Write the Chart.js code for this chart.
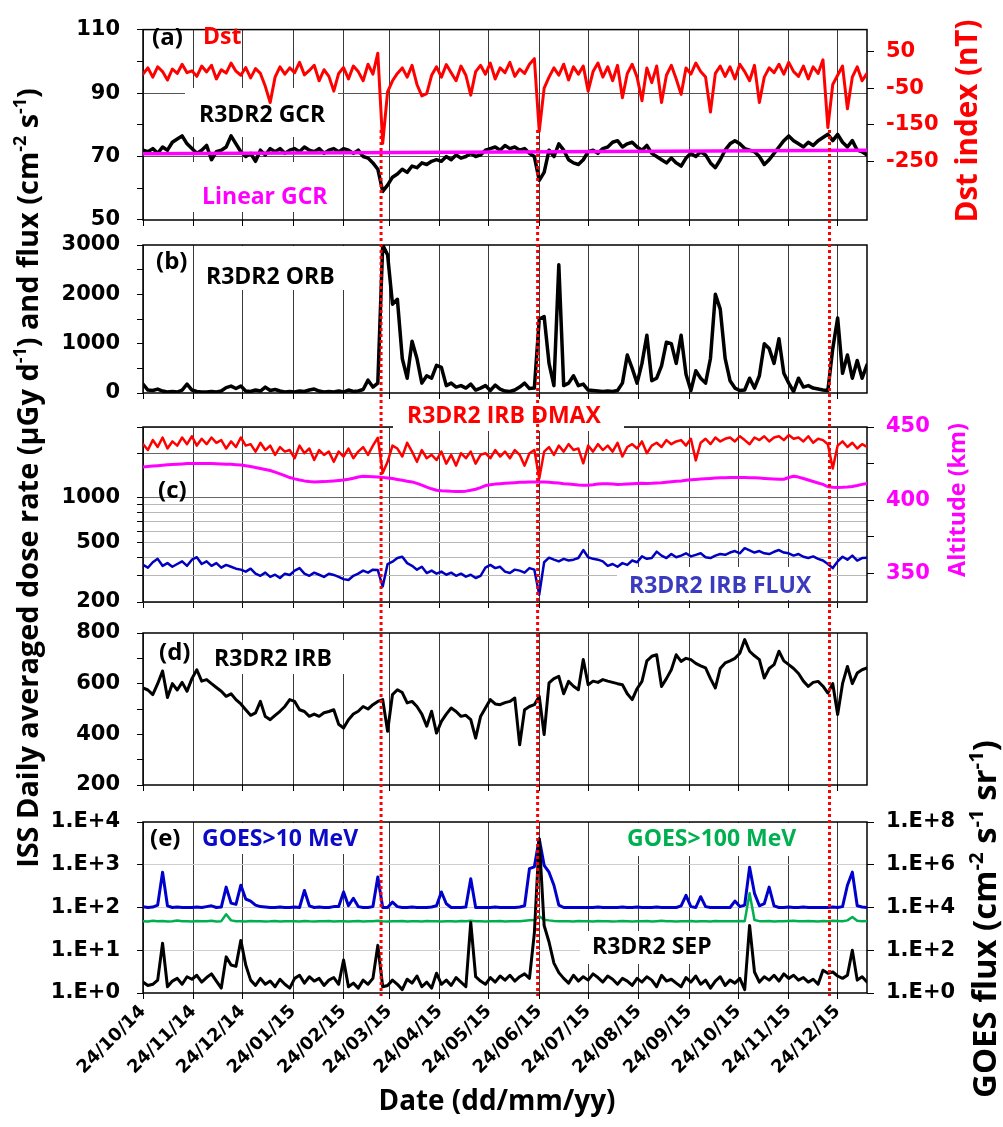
<!DOCTYPE html>
<html>
<head>
<meta charset="utf-8">
<script src="https://cdn.jsdelivr.net/npm/chart.js@4.4.1/dist/chart.umd.min.js"></script>
<style>
html, body { margin: 0; padding: 0; background: #fff; }
#wrap { position: relative; width: 1003px; height: 1127px; }
#wrap canvas { position: absolute; left: 0; top: 0; }
</style>
</head>
<body>
<div id="wrap">
  <canvas id="pa" width="1003" height="1127"></canvas>
  <canvas id="pb" width="1003" height="1127"></canvas>
  <canvas id="pc" width="1003" height="1127"></canvas>
  <canvas id="pd" width="1003" height="1127"></canvas>
  <canvas id="pe" width="1003" height="1127"></canvas>
</div>
<script>
// days since 24/10/14, one sample every 3 days
const days = Array.from({ length: 149 }, (_, i) => i * 3);
const dayMax = 444;
const tickDays = [0, 31, 61, 92, 123, 151, 182, 212, 243, 273, 304, 335, 365, 396, 426];
const tickLabels = ['24/10/14', '24/11/14', '24/12/14', '24/01/15', '24/02/15', '24/03/15', '24/04/15',
  '24/05/15', '24/06/15', '24/07/15', '24/08/15', '24/09/15', '24/10/15', '24/11/15', '24/12/15'];
const stormDays = [146, 242, 421];

// (a) Dst index (nT)
const dstValues = [
  -12, 5, -20, 8, -5, -28, 2, -10, 15, -8,
  -3, -18, 10, -6, 12, -25, 0, -9, 18, -4,
  -15, 6, -22, 3, -10, -45, -89, -20, 8, -12,
  5, -8, 20, -14, -2, 12, -30, 0, -18, -58,
  -10, 6, -25, 10, -5, -30, 15, -12, 45, -200,
  -60, -30, -10, 5, -20, 12, -40, -71, -65, -15,
  8, -20, 14, -8, -30, 10, -15, -69, -5, 12,
  -12, 18, -25, 5, -8, 20, -18, 2, -10, 15,
  30, -167, -50, -20, 5, -15, 15, -28, 8, -12,
  10, -58, -5, 18, -20, 8, -30, 12, -76, -10,
  15, -20, -84, 5, -35, 10, -89, -15, 12, -25,
  -67, 5, -12, 18, -5, -20, -115, -10, 10, -18,
  8, -25, 15, -5, -30, 12, -89, -20, 5, -8,
  15, -12, 20, -5, -18, 10, -25, 8, -10, 27,
  -157, -40, -15, 10, -106, -20, 8, -30, -10
];
// (a) R3DR2 GCR
const gcrValues = [
  72.0, 71.5, 72.5, 71.0, 73.0, 72.0, 74.5, 75.5, 76.5, 74.0,
  72.5, 71.0, 72.0, 73.5, 69.0, 71.5, 72.0, 73.0, 76.5, 74.0,
  71.5, 70.0, 71.0, 68.5, 72.0, 70.5, 72.5, 71.5, 72.5, 71.0,
  72.0, 72.5, 71.5, 73.0, 72.0, 71.5, 72.5, 71.0, 72.0, 72.5,
  71.5, 72.5, 72.0, 71.0, 72.0, 70.0, 69.5, 68.0, 66.0, 59.0,
  61.0, 63.5, 64.5, 66.0, 65.0, 67.0, 66.5, 68.0, 67.5, 68.5,
  69.0, 68.5, 70.0, 69.0, 70.5, 69.5, 70.0, 71.0, 70.0, 70.5,
  72.0, 72.5, 73.0, 72.0, 73.5, 72.5, 73.0, 72.0, 72.5, 71.0,
  70.0, 62.5, 65.0, 72.0, 70.0, 74.0, 72.0, 69.0, 68.0, 67.5,
  69.0, 71.5, 72.0, 71.0, 72.5, 73.0, 74.5, 75.0, 73.0, 74.0,
  74.5, 73.0, 72.0, 73.5, 71.0, 70.0, 69.0, 68.0, 69.5, 68.0,
  67.0, 69.5, 71.0, 70.0, 71.5, 70.5, 68.0, 66.5, 69.0, 72.0,
  74.0, 75.0, 74.0, 72.5, 72.0, 71.5, 70.0, 67.5, 69.0, 71.0,
  73.0, 75.0, 76.5, 75.0, 74.0, 73.0, 74.5, 73.5, 75.0, 76.0,
  77.0, 75.0, 77.0, 74.5, 73.0, 75.0, 72.0, 71.5, 70.5
];
const linearGcrDays = [0, 444];
const linearGcrValues = [70.9, 72.0];

// (b) R3DR2 ORB
const orbValues = [
  180, 60, 50, 80, 40, 20, 30, 20, 60, 180,
  60, 30, 20, 20, 30, 20, 40, 110, 140, 90,
  140, 40, 30, 60, 40, 120, 50, 70, 40, 20,
  30, 20, 40, 30, 60, 80, 40, 20, 30, 20,
  40, 20, 60, 30, 40, 70, 260, 120, 200, 3000,
  2800, 1800, 1900, 700, 300, 1050, 700, 200, 350, 300,
  560, 520, 150, 200, 120, 150, 100, 180, 60, 100,
  150, 50, 160, 80, 40, 30, 60, 120, 200, 90,
  100, 1500, 1550, 600, 150, 2600, 150, 200, 350, 150,
  180, 60, 50, 40, 30, 40, 30, 50, 200, 770,
  500, 200, 600, 1170, 250, 300, 550, 1030, 1000, 600,
  1170, 380, 50, 450, 300, 200, 700, 2000, 1700, 700,
  250, 100, 50, 60, 300, 100, 350, 1000, 900, 600,
  1100, 400, 200, 30, 300, 120, 150, 100, 80, 60,
  50, 900, 1520, 400, 770, 300, 660, 300, 570
];

// (c) R3DR2 IRB DMAX, ISS altitude (km), R3DR2 IRB FLUX
const dmaxValues = [
  2300, 2100, 2450, 2200, 2550, 2150, 2400, 2250, 2550, 2300,
  2600, 2250, 2500, 2300, 2550, 2350, 2450, 2150, 2400, 2200,
  2550, 2250, 2300, 2050, 2350, 2100, 2250, 1950, 2200, 2050,
  2100, 1850, 2250, 2000, 2150, 1800, 2100, 1950, 2050, 1750,
  2050, 1900, 2150, 1850, 2050, 2200, 1950, 2250, 2540, 1470,
  1750, 2250, 2150, 1900, 2350, 2050, 1750, 2100, 1850, 1950,
  1800, 2050, 1700, 1950, 1650, 2000, 1850, 2050, 1700, 1950,
  2000, 1850, 2100, 1900, 2050, 1850, 2100, 1950, 1650, 2000,
  2100, 1350, 2050, 2200, 1950, 2250, 2050, 2300, 2100, 2150,
  1710, 2250, 2050, 2300, 2100, 2250, 2050, 2350, 1900, 2200,
  2300, 2150, 2400, 2000, 2250, 2350, 2200, 2450, 2300, 2400,
  2450, 2250, 2500, 1790, 2350, 2500, 2300, 2550, 2400, 2500,
  2550, 2400, 2600, 2450, 2300, 2550, 2450, 2600, 2400, 2550,
  2600, 2450, 2650, 2500, 2550, 2400, 2600, 2350, 2500, 2450,
  2300, 1580, 2250, 2400, 2200, 2350, 2150, 2300, 2200
];
const altitudeValues = [
  422.7, 423.0, 423.3, 423.6, 423.9, 424.2, 424.4, 424.6, 424.8, 425.0,
  425.0, 425.1, 425.1, 425.0, 425.0, 424.9, 424.8, 424.6, 424.5, 424.3,
  424.0, 423.6, 423.0, 422.4, 421.7, 421.0, 420.3, 419.2, 418.0, 416.8,
  415.5, 414.6, 413.8, 413.2, 412.8, 412.5, 412.6, 412.7, 412.9, 413.2,
  413.5, 413.8, 414.3, 415.0, 415.8, 416.4, 416.2, 416.0, 415.8, 415.6,
  415.2, 414.8, 414.2, 413.6, 413.0, 412.5, 411.5, 410.3, 409.0, 407.8,
  406.8, 406.5, 406.3, 406.1, 406.0, 406.0, 406.2, 406.8, 407.5, 408.6,
  410.0, 410.5, 411.0, 411.3, 411.6, 411.8, 412.0, 412.2, 412.3, 412.4,
  412.5, 412.5, 412.4, 412.2, 412.0, 411.7, 411.3, 411.0, 410.7, 410.4,
  410.2, 410.3, 410.6, 411.0, 411.3, 411.2, 411.0, 410.8, 410.9, 411.1,
  411.3, 411.5, 411.6, 411.5, 411.6, 411.8, 412.0, 412.3, 412.6, 412.9,
  413.2, 413.6, 413.9, 414.2, 414.5, 414.7, 414.9, 415.1, 415.3, 415.4,
  415.5, 415.5, 415.6, 415.5, 415.4, 415.3, 415.1, 414.9, 414.7, 414.5,
  414.3, 414.3, 415.5, 416.4, 415.8, 414.8, 413.8, 412.8, 411.8, 410.8,
  409.2, 408.8, 408.7, 408.8, 409.0, 409.4, 410.0, 410.8, 411.5
];
const fluxValues = [
  355, 340, 370, 390, 350, 365, 345, 360, 375, 350,
  385, 400, 360, 375, 350, 365, 340, 355, 345, 335,
  330, 320, 335, 310, 300, 315, 295, 305, 290, 310,
  304, 325, 338, 310, 300, 315, 305, 295, 310, 304,
  295, 285, 281, 300, 310, 325, 315, 330, 328, 254,
  360, 373, 395, 403, 365, 350, 330, 345, 313, 325,
  310, 320, 305, 315, 300, 310, 296, 305, 290, 300,
  340, 355, 338, 345, 320, 313, 330, 325, 315, 338,
  330, 224, 370, 397, 385, 375, 390, 380, 385, 395,
  447, 400, 390, 385, 375, 350, 360, 345, 365, 355,
  380, 370, 405, 390, 395, 436, 410, 395, 420, 400,
  410, 425, 405, 415, 425, 400, 395, 410, 420, 415,
  430, 440, 425, 460, 445, 430, 440, 425, 420, 435,
  447, 430, 425, 410, 420, 403, 395, 405, 390, 380,
  360, 338, 375, 403, 385, 410, 380, 395, 397
];

// (d) R3DR2 IRB
const irbValues = [
  583, 575, 557, 600, 650, 545, 600, 575, 605, 570,
  620, 655, 610, 616, 600, 585, 570, 550, 560, 537,
  520, 497, 475, 485, 530, 470, 458, 475, 491, 510,
  537, 530, 497, 490, 471, 480, 471, 485, 490, 497,
  440, 425, 458, 480, 491, 510, 500, 517, 530, 537,
  412, 557, 576, 565, 524, 530, 510, 480, 432, 491,
  405, 451, 480, 504, 490, 471, 475, 458, 385, 470,
  504, 537, 520, 517, 525, 530, 543, 359, 497, 510,
  517, 550, 399, 603, 620, 629, 560, 609, 590, 576,
  695, 596, 610, 605, 616, 610, 605, 600, 596, 560,
  537, 580, 609, 690, 708, 714, 589, 620, 655, 714,
  688, 700, 695, 680, 670, 662, 620, 583, 660, 682,
  690, 700, 720, 774, 728, 710, 695, 622, 660, 675,
  728, 690, 675, 660, 640, 610, 589, 605, 609, 590,
  563, 600, 478, 600, 668, 600, 642, 655, 662
];

// (e) R3DR2 SEP, GOES >10 MeV, GOES >100 MeV
const sepValues = [
  1.8, 1.5, 1.6, 2.0, 14.6, 1.4, 1.9, 2.2, 1.6, 2.4,
  2.1, 2.6, 1.8, 2.3, 2.8, 1.9, 1.3, 7.0, 4.5, 4.2,
  17.0, 4.5, 2.0, 1.5, 2.2, 1.6, 1.9, 1.4, 2.1, 1.6,
  1.3, 2.2, 2.6, 1.7, 2.4, 1.9, 2.2, 1.5, 2.0, 2.3,
  1.6, 5.9, 1.4, 1.7, 1.3, 2.0, 1.6, 2.2, 13.0, 1.4,
  1.5, 2.0, 1.6, 1.2, 2.1, 1.7, 2.5, 1.4, 1.8, 1.3,
  2.9, 1.6, 2.0, 1.5, 2.3, 1.8, 1.4, 45.0, 2.4, 1.9,
  1.6, 2.3, 1.8, 2.5, 2.0, 2.6, 1.9, 2.4, 2.8, 2.2,
  25.0, 4000, 38.0, 15.6, 5.0, 3.0, 2.2, 1.7, 2.6, 1.9,
  2.4, 2.0, 2.8, 2.3, 1.8, 2.5, 2.1, 1.6, 2.2, 1.9,
  1.5, 2.2, 1.8, 2.4, 2.0, 1.4, 2.6, 1.9, 2.1, 1.7,
  1.4, 2.3, 1.8, 2.5, 1.6, 2.0, 1.3, 1.9, 2.4, 1.5,
  2.0, 1.7, 2.2, 1.2, 38.0, 3.1, 1.8, 2.4, 2.0, 2.6,
  1.9, 2.8, 2.2, 2.6, 2.0, 2.3, 1.8, 2.1, 1.6, 3.4,
  2.9, 3.1, 2.5, 2.2, 2.6, 10.0, 2.0, 2.4, 1.8
];
const goes10Values = [
  1.1e4, 1.0e4, 1.05e4, 1.3e4, 4.5e5, 1.2e4, 1.0e4, 1.05e4, 1.0e4, 1.0e4,
  1.0e4, 1.05e4, 1.0e4, 1.1e4, 1.2e4, 1.0e4, 1.05e4, 9.0e4, 1.6e4, 1.4e4,
  1.1e5, 2.5e4, 2.0e4, 1.3e4, 1.1e4, 1.05e4, 1.0e4, 1.0e4, 1.05e4, 1.0e4,
  1.0e4, 1.05e4, 1.0e4, 6.3e4, 1.2e4, 1.0e4, 1.05e4, 1.0e4, 1.0e4, 1.1e4,
  1.1e4, 5.3e4, 1.2e4, 2.7e4, 1.1e4, 1.0e4, 1.0e4, 1.1e4, 2.7e5, 1.0e4,
  1.0e4, 1.8e4, 1.1e4, 1.0e4, 1.0e4, 1.05e4, 1.0e4, 1.0e4, 1.0e4, 1.05e4,
  1.2e4, 5.3e4, 1.5e4, 1.0e4, 1.0e4, 1.0e4, 1.05e4, 2.2e5, 1.0e4, 1.0e4,
  1.0e4, 1.0e4, 1.05e4, 1.0e4, 1.0e4, 1.0e4, 1.0e4, 1.05e4, 1.2e4, 6.6e5,
  8.0e5, 1.65e7, 9.4e5, 4.5e5, 1.1e5, 1.3e4, 1.0e4, 1.0e4, 1.0e4, 1.0e4,
  1.0e4, 1.0e4, 1.0e4, 1.05e4, 1.0e4, 1.0e4, 1.0e4, 1.0e4, 1.05e4, 1.0e4,
  1.0e4, 1.05e4, 1.0e4, 1.0e4, 1.0e4, 1.05e4, 1.0e4, 1.0e4, 1.0e4, 1.0e4,
  1.2e4, 3.7e4, 1.1e4, 1.0e4, 3.2e4, 1.1e4, 1.0e4, 1.0e4, 1.0e4, 1.0e4,
  1.0e4, 2.0e4, 1.1e4, 1.3e4, 7.7e5, 4.6e4, 1.2e4, 1.5e4, 9.0e4, 1.2e4,
  1.0e4, 1.0e4, 1.05e4, 1.0e4, 1.0e4, 1.05e4, 1.0e4, 1.0e4, 1.0e4, 1.0e4,
  1.0e4, 1.05e4, 1.0e4, 1.1e4, 1.1e5, 4.5e5, 1.2e4, 1.05e4, 1.0e4
];
const goes100Values = [
  2300, 2200, 2400, 2250, 2350, 2200, 2300, 2450, 2250, 2300,
  2200, 2350, 2250, 2300, 2400, 2200, 2300, 4800, 2500, 2300,
  2250, 2200, 2350, 2250, 2300, 2200, 2250, 2350, 2200, 2300,
  2250, 2300, 2200, 2350, 2250, 2200, 2300, 2250, 2350, 2200,
  2300, 2250, 2200, 2300, 2350, 2200, 2250, 2300, 2400, 2250,
  2200, 2300, 2250, 2350, 2200, 2300, 2250, 2200, 2350, 2250,
  2300, 2200, 2250, 2300, 2200, 2350, 2250, 2400, 2300, 2250,
  2200, 2300, 2250, 2350, 2200, 2300, 2250, 2300, 2400, 2500,
  2600, 3900, 2700, 2500, 2350, 2300, 2250, 2300, 2200, 2350,
  2250, 2300, 2200, 2350, 2250, 2300, 2200, 2250, 2350, 2300,
  2200, 2300, 2250, 2350, 2200, 2300, 2400, 2250, 2300, 2200,
  2300, 2250, 2350, 2200, 2300, 2250, 2200, 2350, 2300, 2250,
  2300, 2250, 2350, 2300, 46000, 2600, 2300, 2250, 2350, 2200,
  2300, 2250, 2350, 2400, 2300, 2250, 2350, 2300, 2200, 2350,
  2300, 2400, 2350, 2300, 2500, 3600, 2400, 2300, 2350
];

// axis ticks
const gcrTicks = [50, 60, 70, 80, 90, 100, 110];
const gcrTickLabels = [50, 70, 90, 110];
const dstTicks = [-250, -150, -50, 50];
const orbTicks = [0, 500, 1000, 1500, 2000, 2500, 3000];
const orbTickLabels = [0, 1000, 2000, 3000];
const doseTicks = [200, 300, 400, 500, 600, 700, 800, 900, 1000, 2000, 3000];
const doseTickLabels = [200, 500, 1000];
const altTicks = [350, 375, 400, 425, 450];
const altTickLabels = [350, 400, 450];
const irbTicks = [200, 300, 400, 500, 600, 700, 800];
const irbTickLabels = [200, 400, 600, 800];
const sepTicks = [1, 10, 100, 1000, 10000];
const sepTickLabels = ['1.E+0', '1.E+1', '1.E+2', '1.E+3', '1.E+4'];
const goesTicks = [1, 1e2, 1e4, 1e6, 1e8];
const goesTickLabels = ['1.E+0', '1.E+2', '1.E+4', '1.E+6', '1.E+8'];

const W = 1003, H = 1127, LEFT = 143, RIGHT = 867;
const tickFont = '"DejaVu Sans", sans-serif';
const labelFont = '"Open Sans", sans-serif';

// frame + in-panel labels (white boxes hide the grid behind them)
const panelDecor = {
  id: 'panelDecor',
  beforeDatasetsDraw(chart, args, opts) {
    const { ctx, chartArea: a } = chart;
    ctx.save();
    ctx.strokeStyle = '#000';
    ctx.lineWidth = 1.5;
    ctx.strokeRect(a.left, a.top, a.right - a.left, a.bottom - a.top);
    (opts.labels || []).forEach(l => {
      if (l.box) {
        ctx.fillStyle = '#fff';
        ctx.fillRect(l.box[0], l.box[1], l.box[2] - l.box[0], l.box[3] - l.box[1]);
      }
      ctx.font = `bold ${l.size || 23}px ${labelFont}`;
      ctx.fillStyle = l.color || '#000';
      ctx.textAlign = 'left';
      ctx.textBaseline = 'middle';
      ctx.fillText(l.text, l.x, l.y);
    });
    ctx.restore();
  }
};

function richWidth(ctx, parts, size) {
  let w = 0;
  parts.forEach(p => {
    ctx.font = `bold ${p[1] ? size * 0.62 : size}px ${labelFont}`;
    w += ctx.measureText(p[0]).width;
  });
  return w;
}

function drawRich(ctx, parts, cx, cy, len, color, rot) {
  const size = 100 * len / richWidth(ctx, parts, 100);
  const w = richWidth(ctx, parts, size);
  ctx.save();
  ctx.translate(cx, cy);
  if (rot) ctx.rotate(-Math.PI / 2);
  ctx.fillStyle = color;
  ctx.textAlign = 'left';
  ctx.textBaseline = 'middle';
  let x = -w / 2;
  parts.forEach(p => {
    ctx.font = `bold ${p[1] ? size * 0.62 : size}px ${labelFont}`;
    ctx.fillText(p[0], x, p[1] ? -size * 0.3 : 0);
    x += ctx.measureText(p[0]).width;
  });
  ctx.restore();
}

// storm markers and outer axis titles, drawn on the top canvas
const overlay = {
  id: 'overlay',
  afterDraw(chart) {
    const ctx = chart.ctx;
    const xs = chart.scales.x;
    ctx.save();
    ctx.strokeStyle = '#ff0000';
    ctx.lineWidth = 3;
    ctx.setLineDash([3, 3]);
    stormDays.forEach(d => {
      const x = xs.getPixelForValue(d);
      ctx.beginPath();
      ctx.moveTo(x, 130);
      ctx.lineTo(x, 996);
      ctx.stroke();
    });
    ctx.setLineDash([]);
    ctx.restore();

    drawRich(ctx, [['ISS Daily averaged dose rate (\u03bcGy d'], ['-1', true], [') and flux (cm'], ['-2', true], [' s'], ['-1', true], [')']],
      30, 478, 780, '#000', true);
    drawRich(ctx, [['Dst index (nT)']], 969, 121, 203, '#ff0000', true);
    drawRich(ctx, [['Altitude (km)']], 958, 500, 154, '#ff00ff', true);
    drawRich(ctx, [['GOES flux (cm'], ['-2', true], [' s'], ['-1', true], [' sr'], ['-1', true], [')']],
      987, 919, 358, '#000', true);
    drawRich(ctx, [['Date (dd/mm/yy)']], 497, 1102, 237, '#000', false);
  }
};

function tickOpts(color, size, padding, callback) {
  return { autoSkip: false, padding: padding, color: color, font: { family: tickFont, weight: 'bold', size: size }, callback: callback };
}

function leftAxis(o) {
  return Object.assign({
    position: 'left',
    afterFit: s => { s.width = LEFT; },
    border: { display: false },
    grid: { color: 'rgba(0,0,0,0)', tickColor: '#000', tickLength: 6 }
  }, o);
}

function rightAxis(o) {
  return Object.assign({
    position: 'right',
    afterFit: s => { s.width = W - RIGHT; },
    border: { display: false },
    grid: { drawOnChartArea: false, tickColor: '#000', tickLength: 7 }
  }, o);
}

function setTicks(list) {
  return s => { s.ticks = list.map(v => ({ value: v })); };
}

function panelChart(id, top, bottom, hasRight, datasets, yScales, labels, showDates, extra) {
  const xScale = {
    type: 'linear', min: 0, max: dayMax, position: 'bottom',
    afterBuildTicks: setTicks(tickDays),
    afterFit: s => { s.height = H - bottom; },
    border: { display: false },
    grid: { color: '#3a3a3a', lineWidth: 1, tickLength: 6, tickColor: '#000' },
    ticks: {
      display: showDates, autoSkip: false, minRotation: 45, maxRotation: 45, padding: 2,
      color: '#000', font: { family: tickFont, weight: 'bold', size: 18 },
      callback: (v, i) => tickLabels[i]
    }
  };
  return new Chart(document.getElementById(id), {
    type: 'line',
    data: { labels: days, datasets: datasets },
    options: {
      responsive: false,
      animation: false,
      devicePixelRatio: 1,
      layout: { padding: { top: top, left: 0, bottom: 0, right: hasRight ? 0 : W - RIGHT } },
      elements: { point: { radius: 0 }, line: { tension: 0, borderCapStyle: 'round', borderJoinStyle: 'round' } },
      plugins: { legend: { display: false }, tooltip: { enabled: false }, panelDecor: { labels: labels } },
      scales: Object.assign({ x: xScale }, yScales)
    },
    plugins: [panelDecor].concat(extra || [])
  });
}

// (a)
panelChart('pa', 20, 220, true, [
  { data: linearGcrDays.map((d, i) => ({ x: d, y: linearGcrValues[i] })), borderColor: '#ff00ff', borderWidth: 3.5, yAxisID: 'y' },
  { data: gcrValues, borderColor: '#000', borderWidth: 3.5, yAxisID: 'y' },
  { data: dstValues, borderColor: '#ff0000', borderWidth: 3, yAxisID: 'yd' }
], {
  y: leftAxis({
    type: 'linear', min: 50, max: 110,
    afterBuildTicks: setTicks(gcrTicks),
    grid: { color: c => (c.tick.value === 70 || c.tick.value === 90) ? '#555' : 'rgba(0,0,0,0)', tickColor: '#000', tickLength: 6 },
    ticks: tickOpts('#000', 21, 17, v => gcrTickLabels.includes(v) ? String(v) : '')
  }),
  yd: rightAxis({
    type: 'linear', min: -408, max: 109,
    afterBuildTicks: setTicks(dstTicks),
    ticks: tickOpts('#ff0000', 21, 12, v => String(v))
  })
}, [
  { text: '(a)', x: 152, y: 38, size: 24 },
  { text: 'Dst', color: '#ff0000', x: 203, y: 37 },
  { text: 'R3DR2 GCR', x: 199, y: 115, box: [185, 88, 338, 137] },
  { text: 'Linear GCR', color: '#ff00ff', x: 202, y: 197, box: [185, 162, 338, 212] }
], false);

// (b)
panelChart('pb', 245, 393, false, [
  { data: orbValues, borderColor: '#000', borderWidth: 3.5, yAxisID: 'y' }
], {
  y: leftAxis({
    type: 'linear', min: 0, max: 3000,
    afterBuildTicks: setTicks(orbTicks),
    ticks: tickOpts('#000', 21, 17, v => orbTickLabels.includes(v) ? String(v) : '')
  })
}, [
  { text: '(b)', x: 156, y: 262, size: 24 },
  { text: 'R3DR2 ORB', x: 206, y: 277, box: [198, 246, 346, 290] }
], false);

// (c)
panelChart('pc', 427, 602, true, [
  { data: dmaxValues, borderColor: '#ff0000', borderWidth: 2.5, yAxisID: 'y' },
  { data: altitudeValues, borderColor: '#ff00ff', borderWidth: 3, yAxisID: 'ya' },
  { data: fluxValues, borderColor: '#0000c0', borderWidth: 2.5, yAxisID: 'y' }
], {
  y: leftAxis({
    type: 'logarithmic', min: 200, max: 3000,
    afterBuildTicks: setTicks(doseTicks),
    grid: { color: c => (c.tick.value === 1000 || c.tick.value === 2000) ? '#666' : '#b8b8b8', tickColor: '#000', tickLength: 6 },
    ticks: tickOpts('#000', 21, 17, v => doseTickLabels.includes(v) ? String(v) : '')
  }),
  ya: rightAxis({
    type: 'linear', min: 330.5, max: 450,
    afterBuildTicks: setTicks(altTicks),
    ticks: tickOpts('#ff00ff', 21, 12, v => altTickLabels.includes(v) ? String(v) : '')
  })
}, [
  { text: 'R3DR2 IRB DMAX', color: '#ff0000', x: 407, y: 416, box: [393, 402, 624, 431] },
  { text: '(c)', x: 158, y: 491, size: 24 },
  { text: 'R3DR2 IRB FLUX', color: '#3b3bbf', x: 629, y: 586, box: [617, 567, 828, 600] }
], false);

// (d)
panelChart('pd', 633, 785, false, [
  { data: irbValues, borderColor: '#000', borderWidth: 3, yAxisID: 'y' }
], {
  y: leftAxis({
    type: 'linear', min: 200, max: 800,
    afterBuildTicks: setTicks(irbTicks),
    ticks: tickOpts('#000', 21, 17, v => irbTickLabels.includes(v) ? String(v) : '')
  })
}, [
  { text: '(d)', x: 159, y: 653, size: 24 },
  { text: 'R3DR2 IRB', x: 214, y: 659, box: [206, 640, 344, 674] }
], false);

// (e)
panelChart('pe', 822, 993, true, [
  { data: sepValues, borderColor: '#000', borderWidth: 3, yAxisID: 'y' },
  { data: goes10Values, borderColor: '#0000cc', borderWidth: 3, yAxisID: 'yg' },
  { data: goes100Values, borderColor: '#00b050', borderWidth: 2.5, yAxisID: 'yg' }
], {
  y: leftAxis({
    type: 'logarithmic', min: 1, max: 10000,
    afterBuildTicks: setTicks(sepTicks),
    grid: { color: c => (c.tick.value > 1 && c.tick.value < 10000) ? '#cfcfcf' : 'rgba(0,0,0,0)', tickColor: '#000', tickLength: 6 },
    ticks: tickOpts('#000', 21, 17, (v, i) => sepTickLabels[i])
  }),
  yg: rightAxis({
    type: 'logarithmic', min: 1, max: 1e8,
    afterBuildTicks: setTicks(goesTicks),
    ticks: tickOpts('#000', 21, 12, (v, i) => goesTickLabels[i])
  })
}, [
  { text: '(e)', x: 150, y: 839, size: 24 },
  { text: 'GOES>10 MeV', color: '#0a0ac8', x: 202, y: 839, box: [197, 823, 372, 854] },
  { text: 'GOES>100 MeV', color: '#00b050', x: 627, y: 839, box: [618, 823, 812, 856] },
  { text: 'R3DR2 SEP', x: 592, y: 947, box: [580, 931, 737, 964] }
], true, [overlay]);
</script>
</body>
</html>
